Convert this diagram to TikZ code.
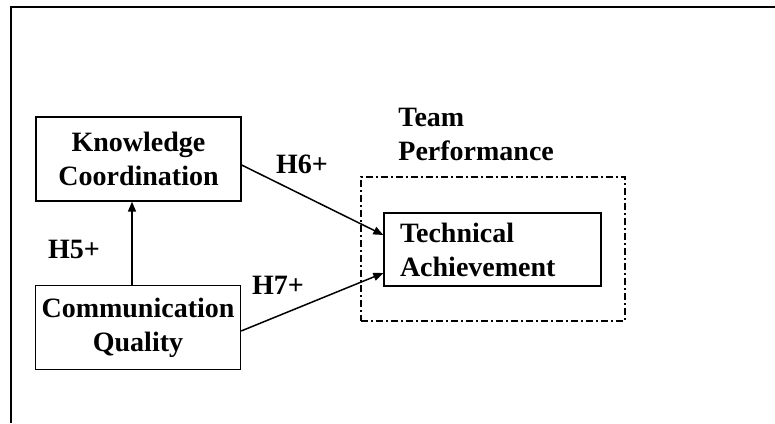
\documentclass[tikz,border=0pt]{standalone}
\usepackage{fontspec}
\setmainfont{Liberation Serif}
\usetikzlibrary{arrows.meta}

\begin{document}
\begin{tikzpicture}[
  x=0.5pt, y=-0.5pt,
  every node/.style={font=\fontsize{14}{17}\selectfont\bfseries, inner sep=0pt},
  box/.style={draw, line width=0.65pt, align=center, minimum width=102.5pt, minimum height=42pt},
  group/.style={draw, line width=0.65pt, dash pattern=on 3.5pt off 1.5pt on 1pt off 1.5pt,
    minimum width=132pt, minimum height=72pt},
  link/.style={line width=0.75pt, -{Triangle[length=5pt,width=4pt]}}
]
\useasboundingbox (0,0) rectangle (775,423);
\draw[line width=1pt] (11,423) -- (11,6.5) -- (775,6.5);

% team performance group
\node[group] (perf) at (493,249) {};
\node[anchor=west, align=left] (perflbl) at (398,134) {Team\\Performance};
\node[draw, line width=0.65pt, align=left, text width=92.5pt, inner xsep=8pt,
  minimum height=36.5pt] (tech) at (492.5,249.5) {Technical\\Achievement};

% antecedents
\node[box] (know) at (138.5,159) {Knowledge\\Coordination};
\node[box] (comm) at (138,327.5) {Communication\\Quality};

\draw[link] ([xshift=-3pt]comm.north) -- ([xshift=-3pt]comm.north |- know.south);
\draw[link] ([yshift=-3pt]know.east) -- ([yshift=7.25pt]tech.west);
\draw[link] ([yshift=-1.75pt]comm.east) -- ([yshift=-11.75pt]tech.west);

\node (h5) at (74,249) {H5+};
\node (h6) at (302,164) {H6+};
\node (h7) at (278,285) {H7+};
\end{tikzpicture}
\end{document}
